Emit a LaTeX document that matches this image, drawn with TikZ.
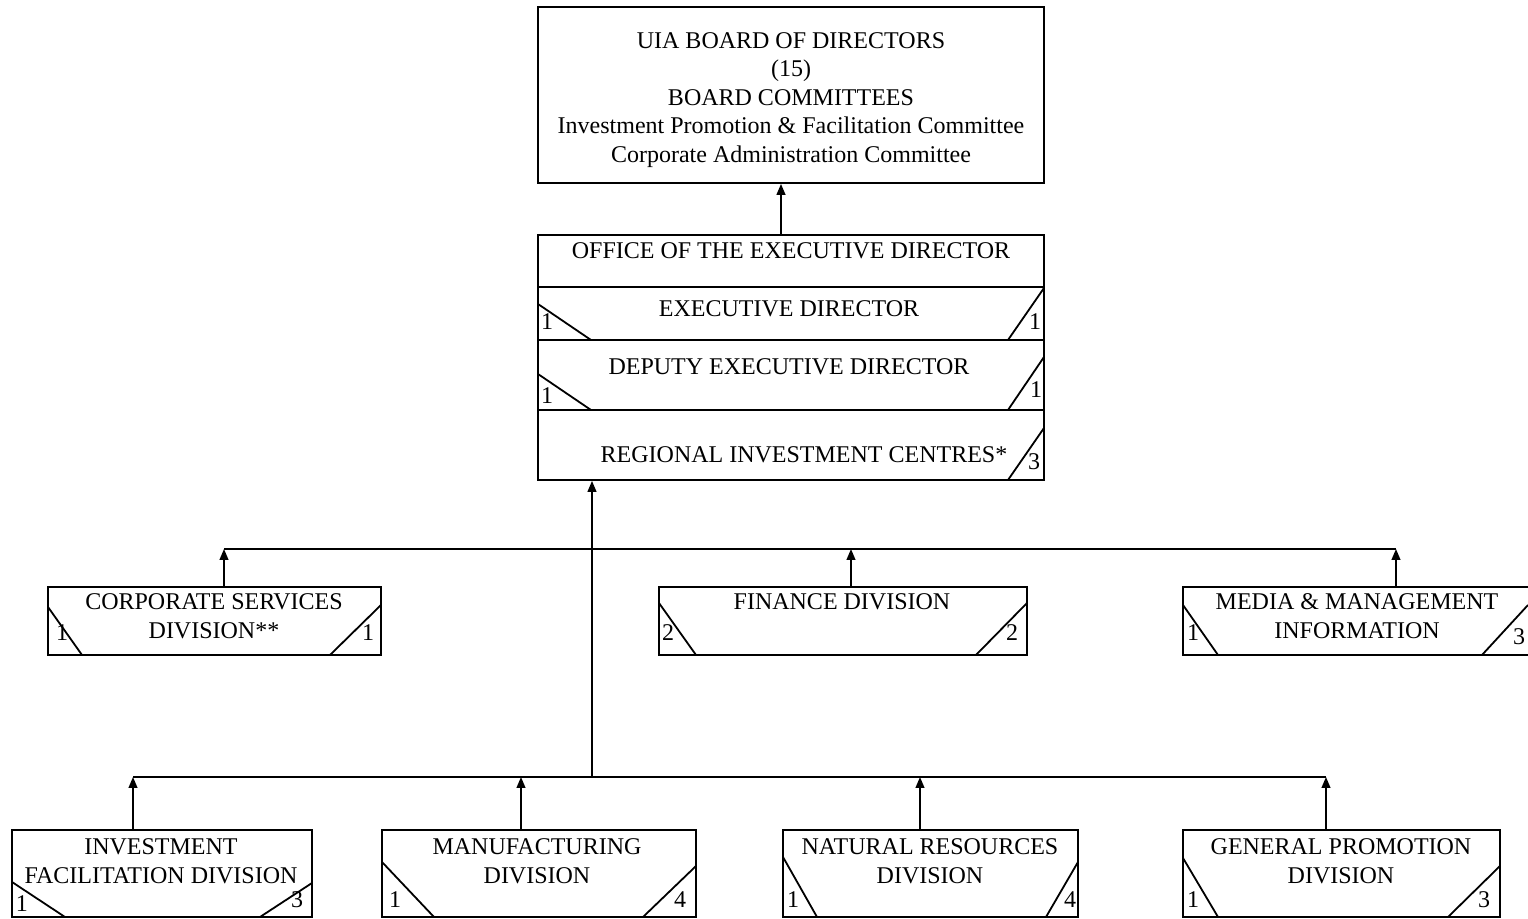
\documentclass[tikz,border=0pt]{standalone}
\usepackage{fontspec}
\setmainfont{Liberation Serif}
\usetikzlibrary{fit,arrows.meta}
\begin{document}
\begin{tikzpicture}[x=0.5pt,y=-0.5pt,
 box/.style={draw,line width=0.9pt,inner sep=0pt},
 lbl/.style={font=\fontsize{12}{14.4}\selectfont,align=center,inner sep=0pt},
 num/.style={font=\fontsize{12}{14}\selectfont,inner sep=0pt},
 diag/.style={line width=0.9pt},
 arr/.style={line width=0.9pt,-{Triangle[length=5.5pt,width=4.4pt]}},
 bus/.style={line width=0.9pt}]
\useasboundingbox (0,0) rectangle (1528,919);

% Board
\node[box,fit={(538,7)(1044,183)}] (board) {};
\node[lbl,font=\fontsize{12}{14.2}\selectfont] (boardtxt) at (791,100) {UIA BOARD OF DIRECTORS\\(15)\\BOARD COMMITTEES\\Investment Promotion \& Facilitation Committee\\Corporate Administration Committee};

% Office
\node[box,fit={(538,235)(1044,480)}] (office) {};
\draw[diag] (538,287) -- (1044,287);
\draw[diag] (538,340) -- (1044,340);
\draw[diag] (538,410) -- (1044,410);
\node[lbl] (otitle) at (791,251) {OFFICE OF THE EXECUTIVE DIRECTOR};
\node[lbl] (oexec) at (789,309) {EXECUTIVE DIRECTOR};
\node[lbl] (odep) at (789,367) {DEPUTY EXECUTIVE DIRECTOR};
\node[lbl] (oreg) at (804,455) {REGIONAL INVESTMENT CENTRES*};
\draw[diag] (538,304) -- (591,340);
\draw[diag] (1008,340) -- (1044,288);
\draw[diag] (538,374) -- (591,410);
\draw[diag] (1008,410) -- (1044,357);
\draw[diag] (1008,480) -- (1044,428);
\node[num] (n1) at (547,322) {1};
\node[num] (n2) at (1035,322) {1};
\node[num] (n3) at (547,396) {1};
\node[num] (n4) at (1036,390) {1};
\node[num] (n5) at (1034,462) {3};

% Middle row
\node[box,fit={(48,587)(381,655)}] (cs) {};
\node[lbl] (cstxt) at (214,616.5) {CORPORATE SERVICES\\DIVISION**};
\draw[diag] (48,607) -- (82,655);
\draw[diag] (330,655) -- (381,605);
\node[num] (n6) at (62,633) {1};
\node[num] (n7) at (368,633) {1};

\node[box,fit={(659,587)(1027,655)}] (fin) {};
\node[lbl] (fintxt) at (842,602) {FINANCE DIVISION};
\draw[diag] (659,603) -- (696,655);
\draw[diag] (976,655) -- (1027,603);
\node[num] (n8) at (668,633) {2};
\node[num] (n9) at (1012,633) {2};

\node[box,fit={(1183,587)(1534,655)}] (media) {};
\node[lbl] (mediatxt) at (1357,616.5) {MEDIA \& MANAGEMENT\\INFORMATION};
\draw[diag] (1183,605) -- (1218,655);
\draw[diag] (1482,655) -- (1528,605);
\node[num] (n10) at (1193,633) {1};
\node[num] (n11) at (1519,637) {3};

% Bottom row
\node[box,fit={(12,830)(312,917)}] (ifd) {};
\node[lbl] (ifdtxt) at (161,861.5) {INVESTMENT\\FACILITATION DIVISION};
\draw[diag] (12,882) -- (65,917);
\draw[diag] (260,917) -- (312,883);
\node[num] (n12) at (22,904) {1};
\node[num] (n13) at (297,900) {3};

\node[box,fit={(382,830)(696,917)}] (man) {};
\node[lbl] (mantxt) at (537,861.5) {MANUFACTURING\\DIVISION};
\draw[diag] (382,862) -- (434,917);
\draw[diag] (643,917) -- (696,866);
\node[num] (n14) at (395,900) {1};
\node[num] (n15) at (680,900) {4};

\node[box,fit={(783,830)(1078,917)}] (nat) {};
\node[lbl] (nattxt) at (930,861.5) {NATURAL RESOURCES\\DIVISION};
\draw[diag] (783,857) -- (817,917);
\draw[diag] (1046,917) -- (1078,862);
\node[num] (n16) at (793,900) {1};
\node[num] (n17) at (1070,900) {4};

\node[box,fit={(1183,830)(1500,917)}] (gen) {};
\node[lbl] (gentxt) at (1341,861.5) {GENERAL PROMOTION\\DIVISION};
\draw[diag] (1183,858) -- (1218,917);
\draw[diag] (1448,917) -- (1500,866);
\node[num] (n18) at (1193,900) {1};
\node[num] (n19) at (1484,900) {3};

% Connectors
\draw[arr] ([xshift=-5pt]office.north) -- ([xshift=-5pt]board.south);

\coordinate (j) at (592,777);
\draw[arr] (j) -- (j |- office.south);

\coordinate (u1) at (224,549);
\coordinate (u2) at (851,549);
\coordinate (u3) at (1396,549);
\draw[bus] (u1) -- (u3);
\draw[arr] (u1 |- cs.north) -- (u1);
\draw[arr] (u2 |- fin.north) -- (u2);
\draw[arr] (u3 |- media.north) -- (u3);

\coordinate (l1) at (133,777);
\coordinate (l2) at (521,777);
\coordinate (l3) at (920,777);
\coordinate (l4) at (1326,777);
\draw[bus] (l1) -- (l4);
\draw[arr] (l1 |- ifd.north) -- (l1);
\draw[arr] (l2 |- man.north) -- (l2);
\draw[arr] (l3 |- nat.north) -- (l3);
\draw[arr] (l4 |- gen.north) -- (l4);
\end{tikzpicture}
\end{document}
